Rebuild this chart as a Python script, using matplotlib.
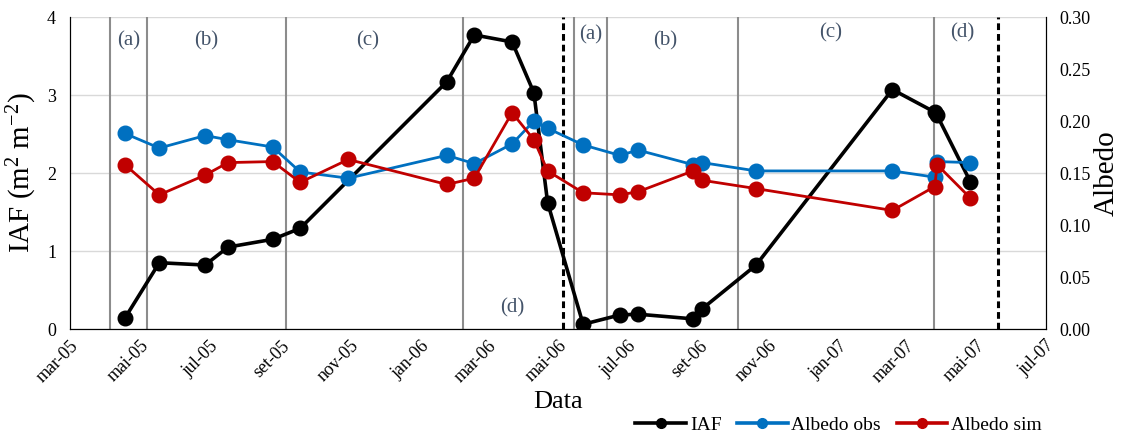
import numpy as np
import pandas as pd
import matplotlib
matplotlib.use("Agg")
import matplotlib.pyplot as plt
from matplotlib.lines import Line2D

plt.rcParams['font.family'] = ['Liberation Serif', 'DejaVu Serif']
plt.rcParams['mathtext.fontset'] = 'custom'
plt.rcParams['mathtext.rm'] = 'Liberation Serif'
plt.rcParams['mathtext.it'] = 'Liberation Serif:italic'

dates = pd.to_datetime([
    "2005-04-18", "2005-05-18", "2005-06-27", "2005-07-17", "2005-08-25",
    "2005-09-18", "2005-10-30", "2006-01-24", "2006-02-17", "2006-03-22",
    "2006-04-10", "2006-04-22", "2006-05-23", "2006-06-24", "2006-07-10",
    "2006-08-27", "2006-09-04", "2006-10-21", "2007-02-17", "2007-03-26",
    "2007-03-28", "2007-04-26"])

iaf = [0.14, 0.85, 0.82, 1.05, 1.15, 1.29, np.nan, 3.17, 3.77, 3.68, 3.03,
       1.62, 0.06, 0.18, 0.19, 0.13, 0.26, 0.82, 3.07, 2.78, 2.74, 1.89]
albedo_obs = [0.188, 0.174, 0.186, 0.182, 0.175, 0.151, 0.145, 0.167, 0.159,
              0.178, 0.200, 0.193, 0.177, 0.167, 0.172, 0.158, 0.160, 0.152,
              0.152, 0.146, 0.161, 0.160]
albedo_sim = [0.158, 0.129, 0.148, 0.160, 0.161, 0.141, 0.163, 0.139, 0.145,
              0.208, 0.182, 0.152, 0.131, 0.129, 0.132, 0.152, 0.143, 0.135,
              0.114, 0.137, 0.158, 0.126]

# phase boundaries and season breaks
phase_lines = pd.to_datetime(["2005-04-05", "2005-05-07", "2005-09-06", "2006-02-07",
                              "2006-05-15", "2006-06-13", "2006-10-05", "2007-03-25"])
season_lines = pd.to_datetime(["2006-05-05", "2007-05-20"])
phase_labels = ["(a)", "(b)", "(c)", "(d)", "(a)", "(b)", "(c)", "(d)"]
label_dates = pd.to_datetime(["2005-04-21", "2005-06-28", "2005-11-16", "2006-03-22",
                              "2006-05-30", "2006-08-03", "2006-12-25", "2007-04-19"])
label_y = [3.7, 3.7, 3.7, 0.27, 3.77, 3.7, 3.8, 3.8]

fig = plt.figure(figsize=(11.21, 4.36), dpi=100)
ax = fig.add_axes([0.0624, 0.2454, 0.8706, 0.7156])
ax2 = ax.twinx()

mask = ~np.isnan(iaf)
ax.plot(dates[mask], np.array(iaf)[mask], color='black', lw=2.6, marker='o',
        ms=10.5, zorder=3)
ax2.plot(dates, albedo_obs, color='#0070C0', lw=2.0, marker='o', ms=10.5, zorder=3)
ax2.plot(dates, albedo_sim, color='#C00000', lw=2.0, marker='o', ms=10.5, zorder=4)

for d in phase_lines:
    ax.axvline(d, color='#8c8c8c', lw=1.5, zorder=1)
for d in season_lines:
    ax.axvline(d, color='black', lw=2.2, ls=(0, (2.2, 1.3)), zorder=1)
for t, d, y in zip(phase_labels, label_dates, label_y):
    ax.text(d, y, t, color='#44546A', fontsize=15, ha='center', va='center', zorder=2)

ax.set_xlim(pd.Timestamp("2005-03-01"), pd.Timestamp("2007-07-01"))
ax.set_ylim(0, 4)
ax2.set_ylim(0, 0.30)
ax.set_yticks([0, 1, 2, 3, 4])
ax2.set_yticks(np.arange(0, 0.31, 0.05))
ax2.yaxis.set_major_formatter(matplotlib.ticker.FormatStrFormatter('%.2f'))

ticks = pd.date_range("2005-03-01", "2007-07-01", freq="2MS")
months = ["jan", "fev", "mar", "abr", "mai", "jun", "jul", "ago", "set", "out", "nov", "dez"]
ax.set_xticks(ticks)
ax.set_xticklabels([f"{months[t.month - 1]}-{t.strftime('%y')}" for t in ticks],
                   rotation=45, ha='right', rotation_mode='anchor', fontsize=13)

ax.yaxis.grid(True, color='#d9d9d9', lw=1)
ax.set_axisbelow(True)
for a in (ax, ax2):
    a.tick_params(length=0, labelsize=13)
    a.spines['top'].set_visible(False)
    a.spines['left'].set_color('black')
    a.spines['right'].set_color('black')
    a.spines['bottom'].set_color('black')
ax.tick_params(axis='x', pad=6)
ax.tick_params(axis='y', pad=10)
ax2.tick_params(axis='y', pad=10)

ax.set_ylabel("IAF (m$^2$ m$^{-2}$)", fontsize=21, labelpad=6)
ax2.set_ylabel("Albedo", fontsize=21, labelpad=2)
ax.set_xlabel("Data", fontsize=19, labelpad=4)

handles = [Line2D([], [], color='black', lw=2.6, marker='o', ms=7),
           Line2D([], [], color='#0070C0', lw=2.6, marker='o', ms=7),
           Line2D([], [], color='#C00000', lw=2.6, marker='o', ms=7)]
fig.legend(handles, ["IAF", "Albedo obs", "Albedo sim"], loc='lower right',
           bbox_to_anchor=(0.945, -0.035), ncol=3, frameon=False, fontsize=14,
           handlelength=2.6, handletextpad=0.2, columnspacing=0.8)

fig.savefig("out.png", dpi=100)
